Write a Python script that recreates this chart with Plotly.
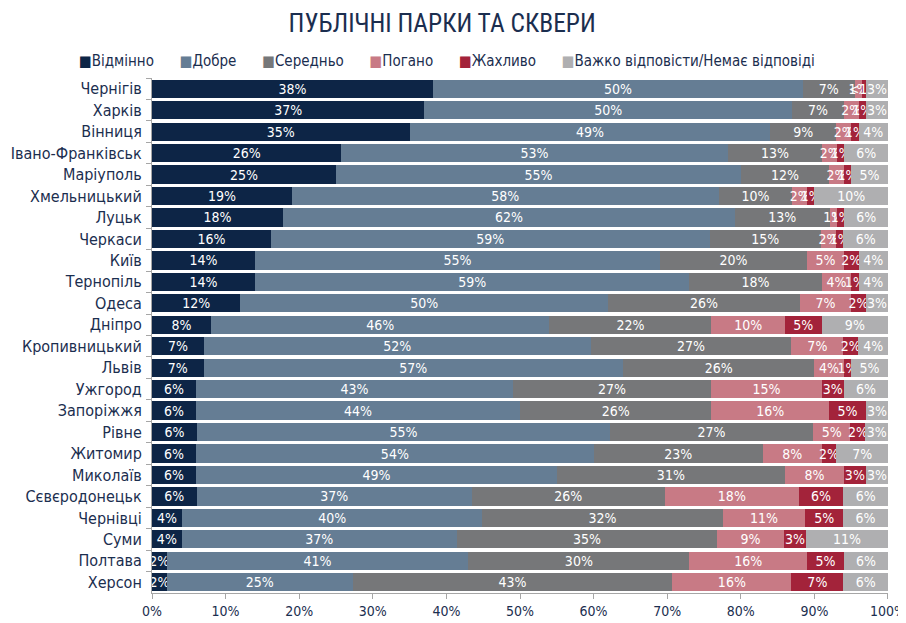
import plotly.graph_objects as go

cities = ["Чернігів", "Харків", "Вінниця", "Івано-Франківськ", "Маріуполь", "Хмельницький",
          "Луцьк", "Черкаси", "Київ", "Тернопіль", "Одеса", "Дніпро", "Кропивницький", "Львів",
          "Ужгород", "Запоріжжя", "Рівне", "Житомир", "Миколаїв", "Сєвєродонецьк", "Чернівці",
          "Суми", "Полтава", "Херсон"]

excellent = [38, 37, 35, 26, 25, 19, 18, 16, 14, 14, 12, 8, 7, 7, 6, 6, 6, 6, 6, 6, 4, 4, 2, 2]
good      = [50, 50, 49, 53, 55, 58, 62, 59, 55, 59, 50, 46, 52, 57, 43, 44, 55, 54, 49, 37, 40, 37, 41, 25]
average   = [7, 7, 9, 13, 12, 10, 13, 15, 20, 18, 26, 22, 27, 26, 27, 26, 27, 23, 31, 26, 32, 35, 30, 43]
bad       = [1, 2, 2, 2, 2, 2, 1, 2, 5, 4, 7, 10, 7, 4, 15, 16, 5, 8, 8, 18, 11, 9, 16, 16]
terrible  = [0.5, 1, 1, 1, 1, 1, 1, 1, 2, 1, 2, 5, 2, 1, 3, 5, 2, 2, 3, 6, 5, 3, 5, 7]
no_answer = [3, 3, 4, 6, 5, 10, 6, 6, 4, 4, 3, 9, 4, 5, 6, 3, 3, 7, 3, 6, 6, 11, 6, 6]

series_names = ["Відмінно", "Добре", "Середньо", "Погано", "Жахливо",
                "Важко відповісти/Немає відповіді"]
series_vals = [excellent, good, average, bad, terrible, no_answer]
colors = ["#0d2546", "#657d94", "#767779", "#c87a85", "#a3233a", "#afafb1"]

tick_vals = [0, 10, 20, 30, 40, 50, 60, 70, 80, 90, 100]
tick_text = [f"{t}%" for t in tick_vals]

FONT = "DejaVu Sans Condensed, Roboto Condensed, sans-serif"
TFONT = "Roboto Condensed, DejaVu Sans Condensed, sans-serif"
NAVY = "#1b2e4f"


def lab(v):
    return "<1%" if v < 1 else f"{int(v)}%"


fig = go.Figure()
for name, vals, col in zip(series_names, series_vals, colors):
    fig.add_trace(go.Bar(
        y=cities, x=vals, name=name, orientation="h",
        marker=dict(color=col, line=dict(width=0)),
        text=[lab(v) for v in vals],
        textposition="inside", insidetextanchor="middle", textangle=0,
        textfont=dict(color="white", size=14, family=FONT),
        constraintext="none", cliponaxis=False,
    ))

# legend drawn as one line of text with coloured squares
gap = "\u00a0" * 6
legend_text = gap.join(f"<span style='color:{c}'>■</span>{n}"
                       for n, c in zip(series_names, colors))
fig.add_annotation(text=legend_text, xref="paper", yref="paper",
                   x=0.4008, y=1 + 17 / 515, xanchor="center", yanchor="middle",
                   showarrow=False, font=dict(size=15, color=NAVY, family=FONT))

fig.update_layout(
    barmode="stack", barnorm="percent", bargap=0.15,
    width=898, height=615,
    paper_bgcolor="white", plot_bgcolor="white",
    margin=dict(l=144, r=18, t=70, b=30, autoexpand=False),
    font=dict(family=FONT, color=NAVY, size=14),
    title=dict(text="ПУБЛІЧНІ ПАРКИ ТА СКВЕРИ", x=0.4835, xref="container", xanchor="center",
               y=1 - 15 / 615, yref="container", yanchor="middle",
               font=dict(size=25.5, color=NAVY, family=TFONT)),
    uniformtext=dict(minsize=14, mode="show"),
    showlegend=False,
)
fig.update_xaxes(range=[0, 100.001], tickvals=tick_vals, ticktext=tick_text,
                 showgrid=False, zeroline=False, showline=True, linecolor="#a6a6a6",
                 ticks="outside", ticklen=5, tickcolor="#a6a6a6", ticklabeloverflow="allow",
                 tickfont=dict(size=14, color=NAVY, family=FONT), fixedrange=True)
fig.update_yaxes(autorange="reversed", showgrid=False, showline=True, linecolor="#a6a6a6",
                 ticks="outside", tickson="boundaries", ticklen=5, tickcolor="#a6a6a6",
                 ticklabelstandoff=6,
                 tickfont=dict(size=16, color=NAVY, family=FONT))

fig.write_html("out.html",
               post_script="document.documentElement.style.overflow='hidden';"
                           "document.body.style.overflow='hidden';")
